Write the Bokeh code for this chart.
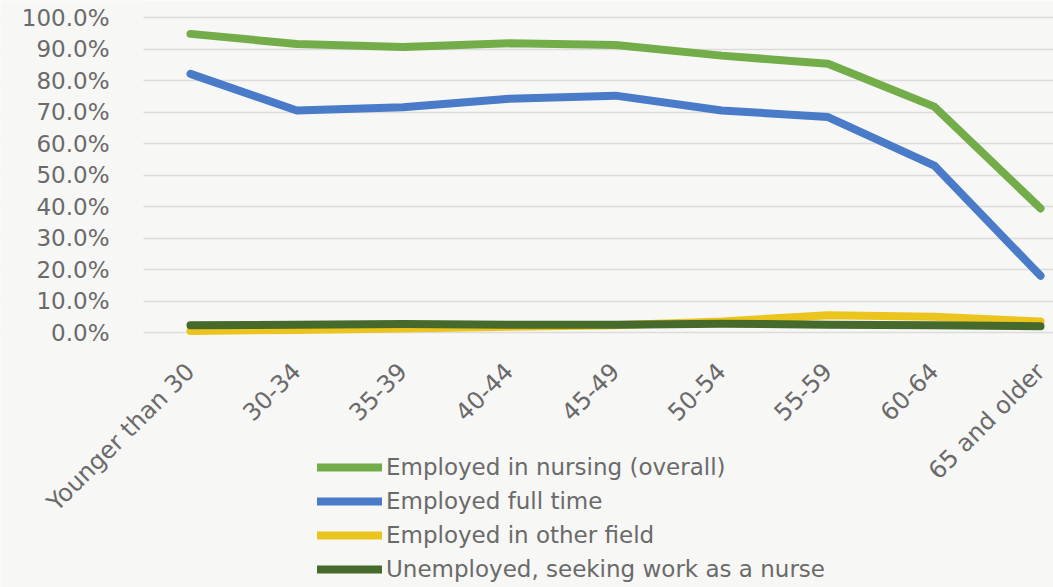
from math import pi
from bokeh.plotting import figure
from bokeh.models import (Range1d, FixedTicker, NumeralTickFormatter, Legend, LegendItem,
                          BoxAnnotation)
from bokeh.embed import file_html
from bokeh.resources import INLINE

categories = ["Younger than 30", "30-34", "35-39", "40-44", "45-49",
              "50-54", "55-59", "60-64", "65 and older"]
nursing_overall = [0.948, 0.916, 0.906, 0.918, 0.913, 0.879, 0.853, 0.717, 0.394]
full_time = [0.821, 0.705, 0.715, 0.742, 0.752, 0.705, 0.684, 0.530, 0.180]
other_field = [0.005, 0.008, 0.013, 0.018, 0.023, 0.035, 0.055, 0.050, 0.035]
unemployed = [0.023, 0.025, 0.027, 0.025, 0.025, 0.028, 0.025, 0.023, 0.020]
y_ticks = [0.0, 0.1, 0.2, 0.3, 0.4, 0.5, 0.6, 0.7, 0.8, 0.9, 1.0]

series = [
    ("Employed in nursing (overall)", nursing_overall, "#72AD4A"),
    ("Employed full time", full_time, "#4A7BC8"),
    ("Employed in other field", other_field, "#EBC51E"),
    ("Unemployed, seeking work as a nurse", unemployed, "#46692C"),
]

xs = list(range(len(categories)))
BG = "#F7F7F5"
FONT = "DejaVu Sans"
TXT = "#6A6A6A"
PLOT_LEFT = -0.442   # left edge of the gridded plot area (in category-index units)

# The frame covers the whole canvas so that axis labels and legend placed
# around the gridded area are not clipped; value 0 sits at 332 px, 1.0 at 17 px.
p = figure(width=1053, height=587, output_backend="svg", toolbar_location=None,
           x_range=Range1d(-1.788, 8.122), y_range=Range1d(-0.8095, 1.054),
           min_border_left=0, min_border_right=0, min_border_top=0,
           min_border_bottom=0)
p.background_fill_color = BG
p.border_fill_color = BG
p.outline_line_color = None

p.xgrid.grid_line_color = None
p.ygrid.ticker = FixedTicker(ticks=y_ticks)
p.ygrid.grid_line_color = "#DCDCDC"
p.ygrid.grid_line_width = 1.5

# hide the grid lines to the left of the plot area (where the y labels sit)
p.add_layout(BoxAnnotation(right=PLOT_LEFT, fill_color=BG, fill_alpha=1.0,
                           line_color=None, level="underlay"), "center")

items = []
for name, vals, col in series:
    r = p.line(xs, vals, line_color=col, line_width=8, line_join="round", line_cap="round")
    items.append(LegendItem(label=name, renderers=[r]))

p.yaxis.ticker = FixedTicker(ticks=y_ticks)
p.yaxis.fixed_location = PLOT_LEFT
p.yaxis.formatter = NumeralTickFormatter(format="0.0%")
p.yaxis.axis_line_color = None
p.yaxis.major_tick_line_color = None
p.yaxis.minor_tick_line_color = None
p.yaxis.major_label_standoff = 28
p.yaxis.major_label_text_font = FONT
p.yaxis.major_label_text_font_size = "23px"
p.yaxis.major_label_text_color = TXT

p.xaxis.ticker = FixedTicker(ticks=xs)
p.xaxis.fixed_location = 0
p.xaxis.major_label_overrides = {i: c for i, c in enumerate(categories)}
p.xaxis.major_label_orientation = pi / 4
p.xaxis.axis_line_color = None
p.xaxis.major_tick_line_color = None
p.xaxis.minor_tick_line_color = None
p.xaxis.major_label_standoff = 29
p.xaxis.major_label_text_font = FONT
p.xaxis.major_label_text_font_size = "24px"
p.xaxis.major_label_text_color = TXT

legend = Legend(items=items, location=(317, 1), orientation="vertical",
                glyph_width=65, glyph_height=34, label_height=34, spacing=0,
                padding=0, margin=0, label_standoff=4,
                label_text_font=FONT, label_text_font_size="23px",
                label_text_color=TXT,
                background_fill_alpha=0, border_line_color=None)
p.add_layout(legend, "center")

open("out.html", "w").write(file_html(p, INLINE))
